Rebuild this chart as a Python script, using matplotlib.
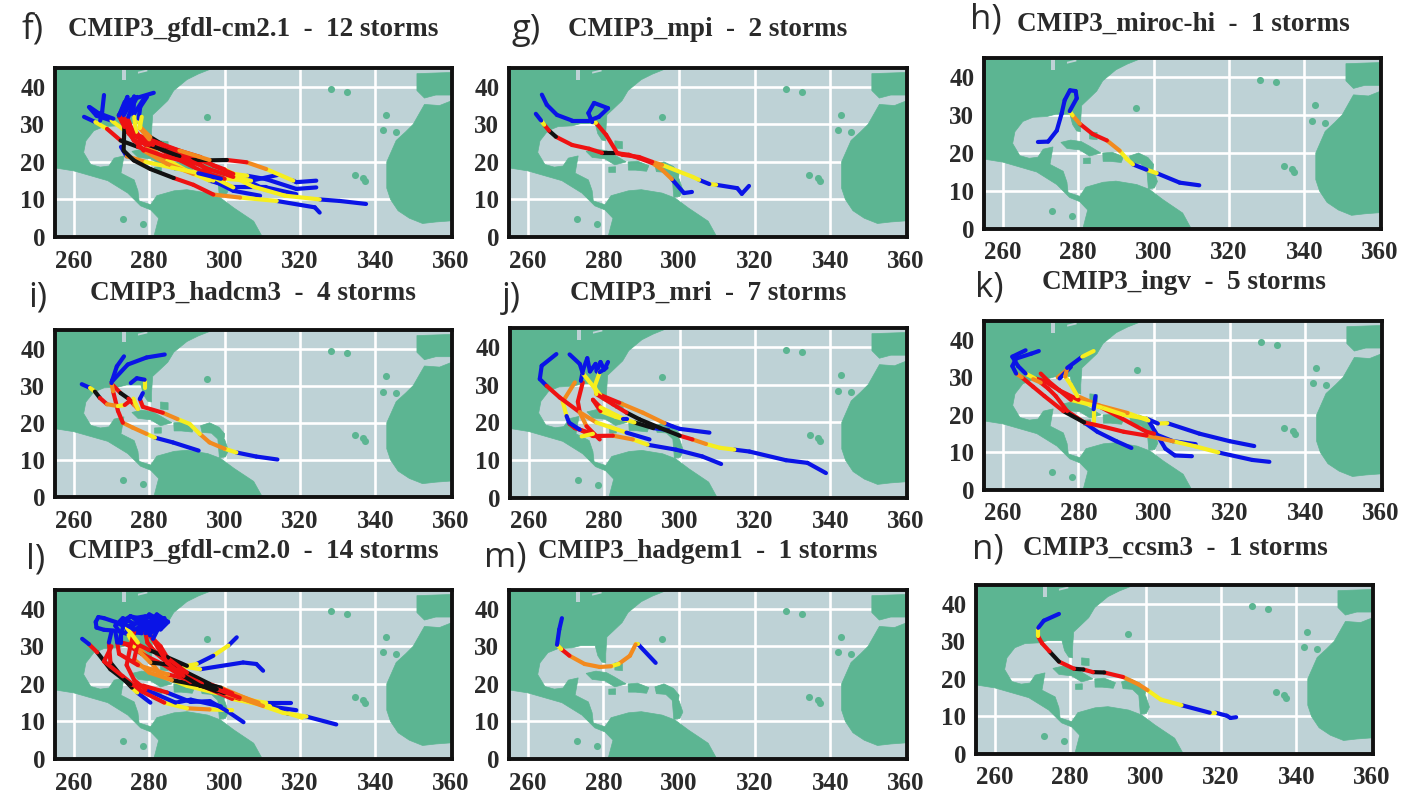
import matplotlib
matplotlib.use("Agg")
import matplotlib.pyplot as plt
from matplotlib.patches import Polygon

W, H = 1423, 793

# map background, lon/lat
america = [(255, 45), (297, 45), (293, 43.4), (290, 41.9), (286.5, 39), (284.9, 36.3), (282.5, 34), (280.9, 32.5), (280.6, 28),
           (280.6, 25.6), (279.6, 25.8), (278.5, 27.5), (277.8, 30.2), (274, 30.2), (271.7, 29.6), (268, 29.4), (265.3, 28.3),
           (263.2, 25.6), (262.6, 22.5), (264.5, 19.3), (267, 18.6), (269.3, 18.9), (270.7, 21), (273.3, 21.6), (272.5, 17),
           (276, 15.2), (277, 12.3), (277.3, 9.6), (280.4, 8.6), (282, 11), (286.6, 12.3), (290, 12.6), (295.5, 11.7),
           (298.9, 10.4), (302.5, 7.7), (307.7, 4.2), (310, 0), (281.2, 0), (282.5, 5), (280.4, 7.2), (277.7, 8.3),
           (274.3, 11.7), (269, 15), (260, 17.6), (255, 18.4)]
africa = [(360, 4.3), (356, 4), (352.5, 3.6), (349, 5), (346, 7), (344, 10), (343, 13), (343, 20), (345.5, 25.7), (348, 28),
          (350, 30), (353, 35.3), (357, 35), (360, 36.2)]
iberia = [(351, 43.5), (360, 43.8), (360, 37.8), (356, 37.8), (353, 37), (351, 39)]
cuba = [(275.4, 22.8), (278, 23.4), (280.8, 23), (283, 21.8), (286, 20), (283, 19.2), (280.4, 20.8), (277, 21.2)]
hispaniola = [(286.5, 20), (289, 20.2), (292, 19), (291.4, 17.5), (288.5, 17.8), (286.6, 17.8)]
jamaica = [(281.4, 18.6), (283.2, 18.7), (283.2, 17.2), (281.4, 17.2)]
antilles = [(293.6, 19.2), (296, 20), (298.5, 18.8), (300, 17), (299.8, 15.4), (298.4, 15.4), (296.5, 17.2), (294, 17.4)]
trinidad = [(298.2, 15.5), (300, 15.5), (301, 12.5), (300.2, 10.8), (298.6, 10.6)]
bahamas = [(283, 25.6), (285, 25.4), (285, 23.5), (283, 23.7)]
islands_lon = [295.4, 328.3, 332.5, 342.8, 342, 345.5, 334.5, 336.7, 337.3, 273, 278.3]
islands_lat = [31.9, 39.3, 38.7, 32.6, 28.4, 28, 16.6, 15.8, 15, 4.7, 3.4]
lakes = [[(272.8, 45), (273.8, 45), (273.8, 41.8), (272.8, 41.8)],
         [(277, 44), (279.5, 44.6), (279.5, 44.1), (277, 43.5)]]
land = [america, africa, iberia, cuba, hispaniola, jamaica, antilles, trinidad, bahamas]

x_ticks = [260, 280, 300, 320, 340, 360]
y_ticks = [0, 10, 20, 30, 40]

# intensity of each leg: 0 blue, 1 yellow, 2 orange, 3 red, 4 black
tracks_f = [
    ([325.2, 323.9, 313.8, 304.1, 297, 291.7, 286.5, 280.3, 275.9, 273.2, 273.4, 271.9, 274.6, 281.2],
     [6.5, 7.9, 9.6, 10.5, 11.3, 13.9, 15.7, 18.1, 20.4, 23, 29.3, 32.4, 36.4, 38.4],
     [0, 0, 1, 2, 3, 3, 4, 4, 4, 4, 3, 0, 0]),
    ([324.3, 319, 318.2, 311, 305.8, 300.6, 295.3, 290.9, 284.7, 280.3, 277.6, 277.2, 277.6, 279.4],
     [15, 14.6, 15, 18.1, 19.9, 20.5, 20.4, 20.4, 23.9, 26.6, 29.3, 31.5, 34.6, 37.3],
     [0, 0, 1, 2, 3, 4, 4, 3, 4, 2, 1, 0, 0]),
    ([324.3, 319, 311, 306, 302.3, 297, 293.5, 284.7, 275.9, 274.1, 275.4, 276.8],
     [13.2, 12.8, 15.4, 16.3, 16.8, 19, 21.3, 24, 27.5, 31, 34.6, 37.3],
     [0, 0, 0, 1, 3, 3, 3, 3, 3, 0, 0]),
    ([319, 311, 302.3, 297, 292.6, 284.7, 275.9, 273.7, 272, 273.5],
     [11.4, 13.2, 13.2, 15.9, 20.4, 23, 25.7, 29.7, 32.4, 36],
     [0, 0, 1, 3, 3, 3, 3, 3, 0]),
    ([309.4, 302.3, 297, 291.7, 284.7, 278.5, 274.6, 273.5],
     [11, 12.3, 15, 16.8, 19.5, 23, 27.5, 31.5],
     [0, 0, 1, 2, 2, 3, 3]),
    ([337.5, 330.5, 325.2, 316, 307.6, 302.3, 296, 288, 280, 275, 274],
     [8.8, 9.6, 10, 11, 13.4, 16, 18, 21.5, 24.5, 28, 31],
     [0, 0, 1, 1, 1, 3, 3, 4, 3, 3]),
    ([314, 307, 300, 294, 287, 281, 276, 274.5],
     [16.5, 15, 15.5, 17.5, 21, 24.5, 27, 31],
     [0, 1, 3, 3, 3, 3, 3]),
    ([303, 296, 290, 284, 279, 276.5, 276],
     [13, 15, 17.6, 21, 24.5, 28, 32],
     [0, 1, 1, 2, 3, 1]),
    ([311, 306, 300, 292, 286, 280, 277.5, 278],
     [12.5, 15, 18, 21, 23.5, 26, 29, 32],
     [0, 1, 3, 3, 3, 2, 1]),
    ([272.5, 274, 279, 286, 293, 299],
     [24, 21.5, 20, 18.5, 17, 15.5],
     [0, 2, 1, 1, 0]),
    ([262.7, 265.7, 268.8, 272.4, 277, 284, 292],
     [32, 30.6, 28.8, 25.7, 24, 21.5, 19.5],
     [0, 1, 3, 4, 3, 3]),
    ([264, 266, 270, 274, 280, 288, 296],
     [34.6, 32.3, 31, 28, 26, 23, 20.5],
     [0, 0, 1, 3, 3, 2]),
    ([268, 267.5, 267], [37.8, 33.3, 31], [0, 0]),
    ([264.2, 266.5, 270.5], [34.6, 33, 31.5], [0, 0]),
    ([272, 274.2, 273, 276, 275.8, 279], [32, 37.3, 32, 37.4, 32.5, 37.5], [0, 0, 0, 0, 0]),
]
tracks_g = [
    ([318.5, 316.6, 315.4, 309.8, 308, 305.3, 303.6, 295.5, 292.9, 289.4, 285, 283.6, 280.7, 278, 277, 276, 277.5, 281.2,
      278.8, 276.2, 271.7, 267.7, 265, 263.7],
     [13.6, 11.5, 13, 13.9, 14.1, 15.2, 16, 19.2, 20, 21.3, 21.9, 22.4, 27.2, 30.4, 30.6, 33, 35.7, 34.3,
      32, 31, 31, 32.5, 35.2, 37.9],
     [0, 0, 0, 1, 0, 1, 1, 2, 3, 3, 3, 3, 3, 1, 0, 0, 0, 0, 0, 0, 0, 0, 0]),
    ([303.4, 301.3, 298.1, 295.5, 292.9, 289.4, 286.7, 282.8, 279.6, 276.2, 271.7, 267.4, 265.6, 264.3, 263.5, 262.1],
     [12, 11.7, 15.4, 17.9, 19.7, 21, 21.9, 22.4, 22.4, 23.5, 24.5, 26.7, 28.3, 29.9, 31, 32.8],
     [0, 0, 2, 2, 3, 3, 3, 4, 3, 3, 3, 4, 3, 1, 0]),
]
tracks_h = [
    ([312.1, 306.9, 300.8, 298.1, 294.5, 292.9, 291, 287.6, 283.8, 280.4, 278.5, 277.7, 279.6, 279.3, 277.8, 276.4, 275.6,
      274.3, 272, 269.3],
     [11.5, 12.2, 14.7, 15.6, 17, 18.4, 20.6, 23.3, 25, 27.7, 29.9, 31, 34.4, 36.3, 36.5, 33.9, 30.4,
      25.9, 23, 22.9],
     [0, 0, 1, 0, 1, 1, 2, 3, 3, 2, 1, 0, 0, 0, 0, 0, 0, 0, 0]),
]
tracks_i = [
    ([314, 308.4, 303.1, 300, 296, 293.4, 290.7, 287.5, 283.6, 278.3, 277.5, 278.3],
     [10.1, 10.9, 12, 13, 14.7, 17, 19.7, 21, 22.7, 24.3, 26.4, 28],
     [0, 0, 1, 2, 2, 1, 1, 2, 3, 3, 0]),
    ([278.8, 278.8, 276.7, 275.1], [29.4, 31.6, 32, 30.7], [1, 0, 0]),
    ([293.1, 286.3, 281.5, 279.3, 275.6, 273, 271.7, 270.4, 270, 270.2, 271.4, 273.3],
     [12.5, 14.7, 16, 17, 18.7, 20, 23.2, 28.5, 30.7, 31.5, 35.2, 37.9],
     [0, 0, 1, 2, 2, 3, 3, 2, 0, 0, 0]),
    ([270, 274.3, 279.3, 284.1], [31, 35.7, 37.6, 38.4], [0, 0, 0]),
    ([270, 272.4, 274.5, 276, 277, 275.8],
     [30.5, 28, 26.5, 24.8, 23.7, 26.5],
     [3, 4, 3, 2, 1]),
    ([262.1, 264.3, 265.6, 266.9, 268.8, 271.7, 273.5, 275],
     [30.4, 29.4, 28.4, 26.7, 25, 24.5, 24.8, 26],
     [0, 1, 4, 3, 2, 1, 3]),
]
tracks_j = [
    ([338.8, 333.9, 328.2, 318.5, 314.5, 310.6, 307, 303.4, 300, 294.7, 289.4, 285.9, 282.3, 277.9, 277.5, 278.8, 280.6],
     [6.6, 9.3, 10, 12.3, 12.8, 13.3, 14.3, 15.5, 16.5, 18.6, 20.8, 22.6, 24.8, 27.5, 29.7, 33.3, 34.5],
     [0, 0, 0, 0, 1, 1, 2, 3, 4, 4, 4, 3, 3, 1, 1, 0]),
    ([311, 306, 299, 291.5, 287.6, 282.3, 277, 273.5, 270.9],
     [9, 11, 12.8, 14.1, 15.5, 16.5, 16.4, 18.1, 19.8],
     [0, 0, 0, 1, 2, 3, 3, 0]),
    ([307.9, 300, 298, 296, 290.2, 284, 278.9, 274.3, 273.5, 270.8],
     [17.3, 18.3, 19, 19.8, 22.6, 25.2, 27.3, 33, 35.5, 38],
     [0, 0, 0, 2, 2, 3, 1, 0, 0]),
    ([267.3, 263.4, 262.9, 264.7, 268.2, 273.5, 277.9, 285.9, 292],
     [38.1, 35, 31.5, 29.7, 26.6, 22.7, 20, 17.3, 15.5],
     [0, 0, 0, 3, 3, 2, 1, 0]),
    ([274.3, 273, 273.5, 275.3, 278.8], [30.6, 25.5, 22.7, 19, 15.5], [3, 3, 2, 3]),
    ([272.2, 269, 270, 270.8, 272.2, 277, 274], [30.6, 25.5, 21.7, 19.6, 18.5, 17, 16.3], [2, 1, 0, 3, 3, 1]),
    ([297, 293, 288, 283, 279, 277, 279, 285, 286],
     [18, 18.5, 20, 21.5, 23, 26, 24, 21, 21],
     [0, 4, 1, 1, 3, 3, 1, 0]),
    ([273.8, 274.4, 275.5, 276.2, 277.7, 278, 279, 280, 281],
     [31, 34, 37, 33.5, 35.5, 33.5, 36, 34, 36],
     [0, 0, 0, 0, 0, 0, 0, 0]),
]
tracks_k = [
    ([330.5, 326, 317, 311, 305, 298, 292, 286, 281.5, 276, 271, 268, 265, 263.5, 262.5, 263.5, 267.5, 269.5],
     [7.5, 8, 10, 11.6, 13, 14.5, 15.5, 17, 18, 21, 25, 27.5, 30, 31, 33, 35, 36.3, 37],
     [0, 0, 1, 1, 2, 3, 3, 3, 4, 3, 3, 3, 2, 0, 0, 0, 0]),
    ([326.5, 320, 312, 303.5, 301, 298, 292, 286, 280, 275, 271, 268.5, 266, 264, 262.5, 266],
     [11.7, 13, 15, 17.8, 17.7, 19, 20, 22, 24, 26.5, 29, 29.7, 31, 33, 35.5, 37.2],
     [0, 0, 0, 1, 0, 1, 1, 2, 3, 3, 3, 1, 0, 0, 0]),
    ([294, 290, 285, 281.5, 277, 274, 272, 270, 268],
     [11.2, 13, 15.5, 18, 21, 25, 27, 28.6, 29.5],
     [0, 0, 0, 3, 3, 3, 3, 2]),
    ([311, 305, 300, 298, 286, 278, 275, 272, 270],
     [12.2, 13, 15, 15.5, 22, 24, 26.5, 29, 31],
     [0, 0, 3, 3, 1, 3, 3, 3]),
    ([310, 305.5, 303, 298.5, 293, 285.5, 279.7, 278, 276.5, 277, 281, 284],
     [9, 9.2, 11, 18.5, 20.5, 22.5, 25, 28, 30.2, 32.5, 35.5, 37],
     [0, 0, 0, 1, 2, 2, 1, 1, 2, 0, 1]),
    ([274.5, 278, 275], [30, 32.8, 29.7], [2, 0]),
    ([284, 284, 284.5], [18, 21.5, 25], [1, 0]),
]
tracks_l = [
    ([329.6, 321.7, 315.5, 310.2, 304, 297.9, 293.5, 289.1, 284.7, 280.3, 279],
     [9.2, 11.3, 12.3, 14.1, 16.3, 18.6, 19.5, 22.1, 25.7, 32.9, 35],
     [0, 1, 1, 2, 3, 4, 4, 3, 3, 0]),
    ([310.2, 308.4, 304.9, 293.5, 288.2, 280.3, 276, 274.5],
     [23.5, 25.3, 25.7, 23.9, 24.8, 25.7, 30, 33],
     [0, 0, 0, 1, 4, 2, 1]),
    ([303.2, 301, 297, 292.6, 290, 285, 280, 276],
     [32.4, 30.2, 27.5, 25.3, 24.8, 27, 29, 31],
     [0, 1, 0, 1, 4, 4, 3]),
    ([305, 300.6, 296.1, 291, 284.7, 278.5, 275, 269.7, 266.2, 264, 262.2],
     [9.8, 12.8, 15.4, 15.2, 17.7, 19.5, 19.8, 23.9, 28.4, 30.6, 32],
     [0, 0, 0, 0, 3, 3, 4, 4, 3, 0]),
    ([280.3, 276.8, 275.4, 273.2, 269.7, 269.3, 270],
     [15, 17.7, 19, 21.3, 25.7, 31, 34],
     [0, 1, 4, 4, 3, 0]),
    ([317.5, 311, 304, 298, 291, 284, 278, 274, 272, 273],
     [15, 15, 16, 18, 20.5, 25, 28, 30.5, 31, 35],
     [0, 1, 3, 4, 3, 3, 3, 3, 0]),
    ([320.5, 314, 308, 300, 294, 288, 282, 279.5, 279, 282],
     [11, 13, 15, 17.5, 20, 23, 28, 31, 33.5, 36],
     [1, 1, 2, 4, 3, 3, 3, 3, 0]),
    ([319, 312, 306, 299, 293, 285, 277, 272, 271.5, 271],
     [13, 14, 16, 19, 20.5, 22.5, 25, 28, 31, 34],
     [0, 1, 2, 4, 3, 2, 3, 3, 0]),
    ([317, 309, 302, 296, 290, 284, 281, 283],
     [12, 15, 17.5, 20, 23, 27.5, 32, 36],
     [0, 2, 3, 4, 3, 3, 0]),
    ([302, 296, 290, 284, 278, 273, 268, 270],
     [13, 13.2, 13.5, 15, 18, 22, 26, 30],
     [1, 2, 1, 3, 3, 3, 3]),
    ([299, 291, 287, 279, 276, 274, 275, 276],
     [14, 15.8, 15, 18.5, 21, 25, 30, 34],
     [0, 0, 0, 3, 3, 3, 3]),
    ([312, 302, 294, 286, 280, 276, 277, 274],
     [14, 16, 19.5, 21, 23, 26.5, 31, 35],
     [1, 3, 4, 2, 2, 3, 1]),
    ([310, 300, 293, 286, 283, 280, 282, 280],
     [14.5, 18, 21, 25, 30, 33, 35.5, 38],
     [3, 3, 3, 3, 3, 0, 0]),
    ([298, 290, 283.5, 277, 272.5, 272.5],
     [17.5, 19.5, 22, 30, 31, 33],
     [1, 1, 2, 3, 0]),
    ([270.6, 268, 266, 265.8, 266.5, 268, 271, 274, 276, 273, 271, 272, 275, 278, 276, 279, 282, 284, 281, 278, 280, 283, 280, 276,
      273, 275, 279, 283, 285, 282, 278, 274, 277, 280, 283, 279, 275, 272.5, 276, 281, 284, 277],
     [34.2, 34.4, 35, 36.5, 37.8, 37.5, 36.5, 35, 36, 37.5, 35.5, 34, 33, 35, 37.5, 38, 37.5, 36, 34, 36, 38.5, 37, 35, 33.5, 35.5,
      38, 36, 34.5, 36.5, 38.5, 33.5, 34, 36.5, 33.5, 35, 37, 38, 36.5, 34.5, 35.5, 37.5, 35],
     [0] * 41),
]
tracks_m = [
    ([293.8, 289.2, 288.5, 287, 284, 282, 279, 275, 271, 268.8, 267.7, 268.3, 269],
     [25.6, 30.5, 30.5, 27.5, 25.3, 24.7, 24.5, 25.3, 27.5, 29.3, 30.4, 34.5, 37.5],
     [0, 1, 2, 2, 1, 2, 2, 2, 3, 1, 0, 0]),
]
tracks_n = [
    ([324, 322.5, 321.5, 318.5, 317, 309.5, 304, 300.5, 298, 294, 289, 286, 283.5, 281, 277, 274.5, 272.5, 271.5, 271.5,
      273, 277],
     [9.8, 9.6, 10.2, 11, 11, 13, 14.5, 17, 18.6, 20.5, 21.7, 21.8, 22.5, 22.7, 24.6, 27.3, 29.5, 31.3, 33.6, 35.5, 37.3],
     [0, 0, 0, 1, 0, 1, 1, 2, 2, 3, 4, 3, 4, 3, 4, 3, 3, 1, 0, 0]),
]

titles = ["CMIP3_gfdl-cm2.1  -  12 storms", "CMIP3_mpi  -  2 storms", "CMIP3_miroc-hi  -  1 storms",
          "CMIP3_hadcm3  -  4 storms", "CMIP3_mri  -  7 storms", "CMIP3_ingv  -  5 storms",
          "CMIP3_gfdl-cm2.0  -  14 storms", "CMIP3_hadgem1  -  1 storms", "CMIP3_ccsm3  -  1 storms"]
letters = ["f)", "g)", "h)", "i)", "j)", "k)", "l)", "m)", "n)"]
all_tracks = [tracks_f, tracks_g, tracks_h, tracks_i, tracks_j, tracks_k, tracks_l, tracks_m, tracks_n]

# layout in image pixels: frame left, top, right, bottom
frames = [(55, 68, 452, 237), (509, 68, 907, 237), (984, 58, 1381, 229),
          (55, 330, 452, 497), (510, 328, 907, 498), (984, 321, 1382, 490),
          (55, 590, 452, 759), (509, 590, 907, 759), (976, 585, 1373, 754)]
title_xy = [(68, 30), (568, 30), (1017, 24), (90, 293), (570, 293), (1042, 282), (68, 552), (538, 552), (1023, 548)]
letter_xy = [(22, 30), (512, 30), (970, 20), (28, 298), (502, 298), (975, 288), (26, 560), (484, 558), (972, 550)]

LAND = "#5CB592"
OCEAN = "#BED2D6"
INTENSITY = ["#0A14E6", "#F6EE1E", "#F28A1E", "#EE1212", "#111111"]

fig = plt.figure(figsize=(W / 100, H / 100), dpi=100)

for i, (x0, y0, x1, y1) in enumerate(frames):
    ax = fig.add_axes([x0 / W, 1 - y1 / H, (x1 - x0) / W, (y1 - y0) / H])
    ax.set_facecolor(OCEAN)
    ax.set_xlim(255, 360.3)
    ax.set_ylim(0, 45)
    ax.set_xticks(x_ticks)
    ax.set_yticks(y_ticks)
    ax.tick_params(axis="x", length=0, pad=9, labelsize=18)
    ax.tick_params(axis="y", length=0, pad=7, labelsize=18)
    for lab in ax.get_xticklabels() + ax.get_yticklabels():
        lab.set_family("Liberation Serif")
        lab.set_fontweight("bold")
        lab.set_color("#2a2a2a")
    ax.grid(True, color="white", lw=1.9, zorder=1)
    ax.set_axisbelow(True)
    for poly in land:
        ax.add_patch(Polygon(poly, closed=True, fc=LAND, ec=LAND, lw=0.5, zorder=2))
    ax.scatter(islands_lon, islands_lat, s=26, color=LAND, zorder=2, linewidths=0)
    for poly in lakes:
        ax.add_patch(Polygon(poly, closed=True, fc=OCEAN, ec="none", zorder=2.5))
    for lons, lats, cats in all_tracks[i]:
        for j, cat in enumerate(cats):
            ax.plot(lons[j:j + 2], lats[j:j + 2], color=INTENSITY[cat], lw=3.0,
                    solid_capstyle="round", zorder=3 + 0.1 * j / len(cats))
    for s in ax.spines.values():
        s.set_linewidth(2.8)
        s.set_color("#111111")
        s.set_zorder(6)

    tx, ty = title_xy[i]
    fig.text(tx / W, 1 - ty / H, titles[i], family="Liberation Serif", fontweight="bold",
             fontsize=19.5, color="#2a2a2a", ha="left", va="center")
    lx, ly = letter_xy[i]
    fig.text(lx / W, 1 - ly / H, letters[i], family="Open Sans", fontsize=25, color="#2a2a2a",
             ha="left", va="center")

fig.savefig("out.png", dpi=100)
